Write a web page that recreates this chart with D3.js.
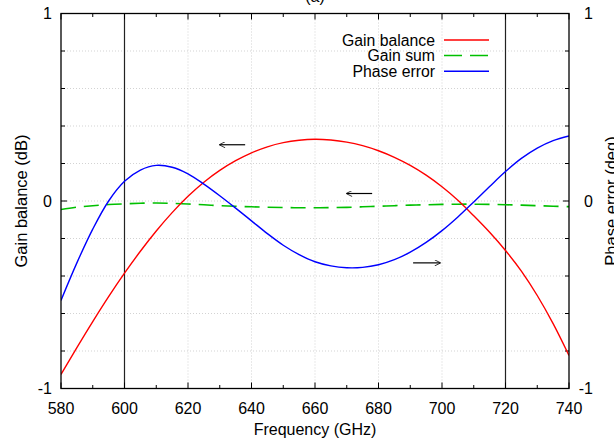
<!DOCTYPE html>
<html>
<head>
<meta charset="utf-8">
<script src="https://cdn.jsdelivr.net/npm/d3@7"></script>
<style>
  body { margin: 0; background: #fff; }
  svg { display: block; font-family: "Liberation Sans", Arial, sans-serif; }
</style>
</head>
<body>
<div id="chart"></div>
<script>
// frequency samples (GHz)
const freq = [580, 585, 590, 595, 600, 605, 610, 615, 620, 625, 630, 635, 640, 645, 650, 655, 660,
  665, 670, 675, 680, 685, 690, 695, 700, 705, 710, 715, 720, 725, 730, 735, 740];
// gain balance (dB), left axis
const gainBalance = [-0.925, -0.782, -0.643, -0.51, -0.385, -0.268, -0.16, -0.062, 0.025, 0.10, 0.163,
  0.215, 0.257, 0.289, 0.311, 0.324, 0.329, 0.325, 0.314, 0.295, 0.268, 0.233, 0.19, 0.138, 0.076,
  0.004, -0.079, -0.167, -0.264, -0.374, -0.504, -0.654, -0.824];
// gain sum, left axis
const gainSum = [-0.045, -0.033, -0.025, -0.019, -0.015, -0.012, -0.011, -0.013, -0.016, -0.02, -0.025,
  -0.028, -0.031, -0.033, -0.035, -0.036, -0.036, -0.035, -0.034, -0.031, -0.028, -0.025, -0.022, -0.02,
  -0.018, -0.017, -0.017, -0.018, -0.02, -0.022, -0.025, -0.028, -0.03];
// phase error (deg), right axis
const phaseError = [-0.53, -0.33, -0.15, 0.0, 0.105, 0.165, 0.19, 0.18, 0.145, 0.09, 0.028, -0.038,
  -0.106, -0.174, -0.236, -0.286, -0.324, -0.346, -0.356, -0.354, -0.34, -0.313, -0.273, -0.221, -0.158,
  -0.085, -0.005, 0.077, 0.157, 0.227, 0.282, 0.322, 0.347];

const seriesNames = ['Gain balance', 'Gain sum', 'Phase error'];
const xTicks = [580, 600, 620, 640, 660, 680, 700, 720, 740];
const yTickLabels = [-1, 0, 1];
const markerFreqs = [600, 720];
// arrows: [from freq, to freq, level]
const arrows = [[638, 630, 0.30], [678, 670, 0.04], [690.9, 699.4, -0.33]];

const W = 614, H = 440;
const m = { top: 13.5, right: 45, bottom: 51.5, left: 61 };
const cw = W - m.left - m.right, ch = H - m.top - m.bottom;

const svg = d3.select('#chart').append('svg').attr('width', W).attr('height', H);
const defs = svg.append('defs');
defs.append('clipPath').attr('id', 'clip').append('rect').attr('width', cw).attr('height', ch);
defs.append('marker').attr('id', 'arr').attr('viewBox', '0 0 10 10').attr('refX', 9).attr('refY', 5)
  .attr('markerWidth', 9).attr('markerHeight', 6).attr('markerUnits', 'userSpaceOnUse').attr('orient', 'auto')
  .append('path').attr('d', 'M0,0L10,5L0,10').attr('fill', 'none').attr('stroke', '#000').attr('stroke-width', 1.3);

const g = svg.append('g').attr('transform', `translate(${m.left},${m.top})`);

const x = d3.scaleLinear().domain([580, 740]).range([0, cw]);
const yL = d3.scaleLinear().domain([-1, 1]).range([ch, 0]);
const yR = d3.scaleLinear().domain([-1, 1]).range([ch, 0]);

// grid
const yGrid = d3.range(-1, 1.001, 0.2);
g.append('g').selectAll('line').data(yGrid.slice(1, -1)).join('line')
  .attr('x1', 0).attr('x2', cw).attr('y1', d => yL(d)).attr('y2', d => yL(d))
  .attr('stroke', '#c8c8c8').attr('stroke-width', 0.8).attr('stroke-dasharray', '1,2');
g.append('g').selectAll('line').data(xTicks.slice(1, -1).filter(d => !markerFreqs.includes(d))).join('line')
  .attr('x1', d => x(d)).attr('x2', d => x(d)).attr('y1', 0).attr('y2', ch)
  .attr('stroke', '#c8c8c8').attr('stroke-width', 0.8).attr('stroke-dasharray', '1,2');

// solid marker lines at band edges
g.append('g').selectAll('line').data(markerFreqs).join('line')
  .attr('x1', d => x(d)).attr('x2', d => x(d)).attr('y1', 0).attr('y2', ch)
  .attr('stroke', '#222').attr('stroke-width', 1.2);

// ticks
const xMinor = d3.range(580, 741, 10);
const tk = g.append('g').attr('stroke', '#000').attr('stroke-width', 1);
xMinor.forEach(f => {
  const len = f % 20 === 0 ? 6 : 3.5;
  tk.append('line').attr('x1', x(f)).attr('x2', x(f)).attr('y1', ch).attr('y2', ch - len);
  tk.append('line').attr('x1', x(f)).attr('x2', x(f)).attr('y1', 0).attr('y2', len);
});
yGrid.forEach(v => {
  const major = Math.abs(v - Math.round(v)) < 1e-6;
  const len = major ? 6 : 4;
  tk.append('line').attr('x1', 0).attr('x2', len).attr('y1', yL(v)).attr('y2', yL(v));
  tk.append('line').attr('x1', cw).attr('x2', cw - len).attr('y1', yR(v)).attr('y2', yR(v));
});

// curves
const pts = vals => freq.map((f, i) => [f, vals[i]]);
const lineL = d3.line().x(d => x(d[0])).y(d => yL(d[1])).curve(d3.curveCatmullRom);
const lineR = d3.line().x(d => x(d[0])).y(d => yR(d[1])).curve(d3.curveCatmullRom);
const plot = g.append('g').attr('clip-path', 'url(#clip)').attr('fill', 'none');
plot.append('path').attr('d', lineL(pts(gainSum))).attr('stroke', '#00c000').attr('stroke-width', 1.6)
  .attr('stroke-dasharray', '15,8');
plot.append('path').attr('d', lineL(pts(gainBalance))).attr('stroke', '#ff0000').attr('stroke-width', 1.4);
plot.append('path').attr('d', lineR(pts(phaseError))).attr('stroke', '#0000ff').attr('stroke-width', 1.4);

// arrows
g.append('g').selectAll('line').data(arrows).join('line')
  .attr('x1', d => x(d[0])).attr('x2', d => x(d[1])).attr('y1', d => yL(d[2])).attr('y2', d => yL(d[2]))
  .attr('stroke', '#000').attr('stroke-width', 1.2).attr('marker-end', 'url(#arr)');

// frame
g.append('rect').attr('width', cw).attr('height', ch).attr('fill', 'none')
  .attr('stroke', '#000').attr('stroke-width', 1.3);

// tick labels
g.append('g').selectAll('text').data(xTicks).join('text')
  .attr('x', d => x(d)).attr('y', ch + 25).attr('text-anchor', 'middle')
  .attr('font-size', 16).text(d => d);
g.append('g').selectAll('text').data(yTickLabels).join('text')
  .attr('x', -9).attr('y', d => yL(d) + 5.5).attr('text-anchor', 'end')
  .attr('font-size', 16).text(d => d);
g.append('g').selectAll('text').data(yTickLabels).join('text')
  .attr('x', cw + 24).attr('y', d => yR(d) + 5.5).attr('text-anchor', 'end')
  .attr('font-size', 16).text(d => d);

// axis titles
svg.append('text').attr('x', m.left + cw / 2).attr('y', H - 5).attr('text-anchor', 'middle')
  .attr('font-size', 16).text('Frequency (GHz)');
svg.append('text').attr('transform', `translate(27,${m.top + ch / 2}) rotate(-90)`)
  .attr('text-anchor', 'middle').attr('font-size', 16.5).text('Gain balance (dB)');
svg.append('text').attr('transform', `translate(617,${m.top + ch / 2}) rotate(-90)`)
  .attr('text-anchor', 'middle').attr('font-size', 16.5).text('Phase error (deg)');
svg.append('text').attr('x', m.left + cw / 2).attr('y', 1.5).attr('text-anchor', 'middle')
  .attr('font-size', 16).text('(a)');

// legend
const legColors = ['#ff0000', '#00c000', '#0000ff'];
const leg = svg.append('g').attr('transform', 'translate(435,40)');
seriesNames.forEach((name, i) => {
  const row = leg.append('g').attr('transform', `translate(0,${i * 15.6})`);
  row.append('text').attr('x', 0).attr('y', 5.5).attr('text-anchor', 'end')
    .attr('font-size', 15.8).text(name);
  row.append('line').attr('x1', 9).attr('x2', 54).attr('y1', 0).attr('y2', 0)
    .attr('stroke', legColors[i]).attr('stroke-width', 1.5)
    .attr('stroke-dasharray', i === 1 ? '18,8' : null);
});
</script>
</body>
</html>
